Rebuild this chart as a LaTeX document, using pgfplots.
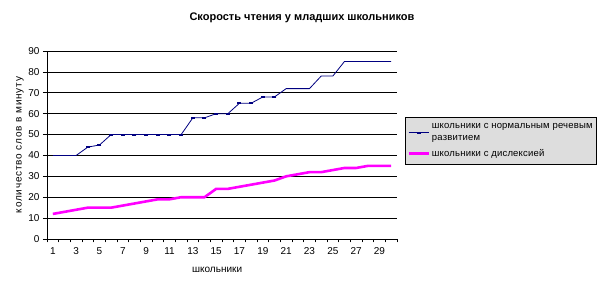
\documentclass[border=0pt]{standalone}
\usepackage{pgfplots}
\pgfplotsset{compat=1.18}
\usepackage{fontspec}
\setmainfont{Liberation Sans}
\definecolor{navyb}{HTML}{000080}
\definecolor{mag}{HTML}{FF00FF}
\definecolor{leggray}{HTML}{DDDDDD}
\begin{document}
\begin{tikzpicture}
\useasboundingbox (0,0) rectangle (603pt,291pt);
\node[font=\fontsize{11}{13}\selectfont\bfseries] at (302pt,273pt) {Скорость чтения у младших школьников};
\begin{axis}[
  at={(47pt,52pt)}, anchor=south west,
  scale only axis, width=350pt, height=188pt,
  xmin=0.5, xmax=30.5, ymin=0, ymax=90,
  axis x line*=bottom, axis y line*=left,
  axis line style={black, line width=0.6pt, -},
  xtick={1,3,...,29},
  minor xtick={0.5,1.5,...,30.5},
  major x tick style={draw=none},
  minor tick length=3.5pt,
  ytick={0,10,...,90},
  major tick length=4pt,
  tick align=outside,
  tick style={black, line width=0.6pt},
  ymajorgrids, grid style={black, line width=0.6pt},
  /pgf/number format/assume math mode=true,
  tick label style={font=\fontsize{10}{12}\selectfont},
  xticklabel style={yshift=-1pt},
  xlabel={школьники},
  ylabel={\addfontfeatures{LetterSpace=8}количество слов в минуту},
  label style={font=\fontsize{10}{12}\selectfont},
  xlabel style={at={(axis description cs:0.486,-0.165)}, anchor=center},
  ylabel style={at={(axis description cs:-0.077,0.5)}, anchor=center},
  legend style={at={(rel axis cs:1.023,0.649)}, anchor=north west,
    fill=leggray, draw=black, line width=0.6pt,
    font=\fontsize{9.5}{12.5}\selectfont\addfontfeatures{LetterSpace=2},
    cells={anchor=west, align=left},
    inner xsep=2pt, inner ysep=4pt,
    row sep=3pt},
  legend image code/.code={\draw[mark repeat=2, mark phase=2, #1] plot coordinates {(0pt,0pt) (10pt,0pt) (20pt,0pt)};},
]
\addlegendimage{navyb, line width=0.8pt, mark=-, mark size=2pt, mark options={line width=2pt}}
\addlegendentry{школьники с нормальным речевым\\развитием}
\addlegendimage{mag, line width=2.6pt}
\addlegendentry{школьники с дислексией}
\addplot[navyb, line width=0.8pt, mark=-, mark size=2pt,
  mark options={line width=2pt}, forget plot,
  mark indices={4,5,6,7,8,9,10,11,12,13,14,15,16,17,18,19,20}]
coordinates {
(1,40) (2,40) (3,40) (4,44) (5,45) (6,50) (7,50) (8,50) (9,50) (10,50)
(11,50) (12,50) (13,58) (14,58) (15,60) (16,60) (17,65) (18,65) (19,68) (20,68)
(21,72) (22,72) (23,72) (24,78) (25,78) (26,85) (27,85) (28,85) (29,85) (30,85)
};
\addplot[mag, line width=2.6pt, mark=none, forget plot]
coordinates {
(1,12) (2,13) (3,14) (4,15) (5,15) (6,15) (7,16) (8,17) (9,18) (10,19)
(11,19) (12,20) (13,20) (14,20) (15,24) (16,24) (17,25) (18,26) (19,27) (20,28)
(21,30) (22,31) (23,32) (24,32) (25,33) (26,34) (27,34) (28,35) (29,35) (30,35)
};
\end{axis}
\end{tikzpicture}
\end{document}
